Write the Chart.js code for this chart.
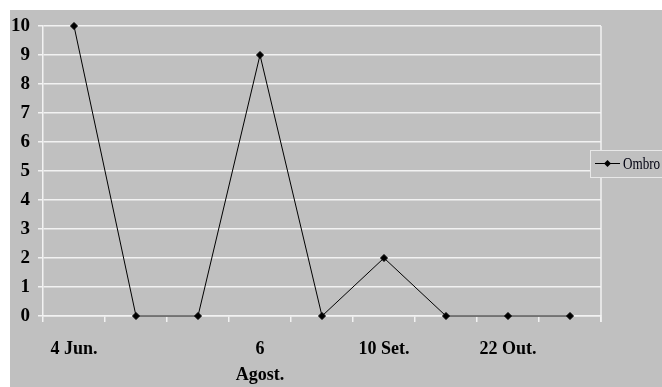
<!DOCTYPE html>
<html>
<head>
<meta charset="utf-8">
<script src="https://cdn.jsdelivr.net/npm/chart.js@4"></script>
<style>
  html, body { margin: 0; padding: 0; background: #ffffff; }
  #wrap { width: 662px; height: 387px; }
</style>
</head>
<body>
<div id="wrap"><canvas id="chart" width="662" height="387"></canvas></div>
<script>
// dados
const categories = ['4 Jun.', '', '', ['6', 'Agost.'], '', '10 Set.', '', '22 Out.', ''];
const ombroValues = [10, 0, 0, 9, 0, 2, 0, 0, 0];
const yTicks = [0, 1, 2, 3, 4, 5, 6, 7, 8, 9, 10];
const seriesLabel = 'Ombro';

// fundo cinza (estilo Excel antigo)
const bgPlugin = {
  id: 'bg',
  beforeDraw(chart) {
    const ctx = chart.ctx;
    ctx.save();
    ctx.fillStyle = '#c0c0c0';
    ctx.fillRect(10, 10, chart.width - 10, chart.height - 10);
    ctx.restore();
  },
  afterDraw(chart) {
    // borda direita da área do gráfico
    const a = chart.chartArea;
    const ctx = chart.ctx;
    ctx.save();
    ctx.strokeStyle = '#f2f2f2';
    ctx.lineWidth = 1.5;
    ctx.beginPath();
    ctx.moveTo(a.right, a.top);
    ctx.lineTo(a.right, a.bottom + 6);
    ctx.stroke();
    ctx.restore();
  }
};

// legenda desenhada à direita, cortada na borda
const legendPlugin = {
  id: 'sideLegend',
  afterDraw(chart) {
    const ctx = chart.ctx;
    const ds = chart.data.datasets[0];
    const x = 590, y = 150, h = 27;
    ctx.save();
    ctx.fillStyle = '#c0c0c0';
    ctx.fillRect(x, y, chart.width - x + 5, h);
    ctx.strokeStyle = '#e8e8e8';
    ctx.lineWidth = 1;
    ctx.strokeRect(x + 0.5, y + 0.5, chart.width - x + 5, h);
    const cy = y + h / 2;
    ctx.strokeStyle = '#000';
    ctx.beginPath();
    ctx.moveTo(x + 5, cy);
    ctx.lineTo(x + 30, cy);
    ctx.stroke();
    ctx.fillStyle = '#000';
    ctx.beginPath();
    ctx.moveTo(x + 17.5, cy - 3.5);
    ctx.lineTo(x + 21, cy);
    ctx.lineTo(x + 17.5, cy + 3.5);
    ctx.lineTo(x + 14, cy);
    ctx.closePath();
    ctx.fill();
    // texto um pouco condensado, como no original
    ctx.translate(x + 33, cy + 1);
    ctx.scale(0.82, 1);
    ctx.font = '16px "Liberation Serif", "Times New Roman", serif';
    ctx.textBaseline = 'middle';
    ctx.textAlign = 'left';
    ctx.fillStyle = '#000010';
    ctx.fillText(ds.label, 0, 0);
    ctx.restore();
  }
};

new Chart(document.getElementById('chart'), {
  type: 'line',
  data: {
    labels: categories,
    datasets: [{
      label: seriesLabel,
      data: ombroValues,
      borderColor: '#000000',
      borderWidth: 1,
      pointStyle: 'rectRot',
      pointRadius: 3.5,
      pointBackgroundColor: '#000000',
      pointBorderColor: '#000000',
      tension: 0,
      clip: false
    }]
  },
  options: {
    responsive: false,
    animation: false,
    layout: { padding: { left: 10, top: 26, right: 61, bottom: 0 } },
    plugins: {
      legend: { display: false },
      tooltip: { enabled: false }
    },
    scales: {
      x: {
        offset: true,
        afterFit: (s) => { s.height = 71; },
        grid: {
          offset: true,
          drawOnChartArea: false,
          drawTicks: true,
          tickLength: 6,
          color: '#f2f2f2',
          lineWidth: 1.5
        },
        border: { display: true, color: '#f2f2f2', width: 1.5 },
        ticks: {
          autoSkip: false,
          maxRotation: 0,
          padding: 14,
          color: '#000000',
          font: { family: '"Liberation Serif", "Times New Roman", serif', size: 18, weight: 'bold', lineHeight: 1.45 }
        }
      },
      y: {
        min: 0,
        max: 10,
        afterFit: (s) => { s.width = 33; },
        afterBuildTicks: (s) => { s.ticks = yTicks.map(v => ({ value: v })); },
        grid: {
          color: '#f2f2f2',
          lineWidth: 1.5,
          tickLength: 5
        },
        border: { display: true, color: '#f2f2f2', width: 1.5 },
        ticks: {
          padding: 8,
          color: '#000000',
          font: { family: '"Liberation Serif", "Times New Roman", serif', size: 19, weight: 'bold' }
        }
      }
    }
  },
  plugins: [bgPlugin, legendPlugin]
});
</script>
</body>
</html>
